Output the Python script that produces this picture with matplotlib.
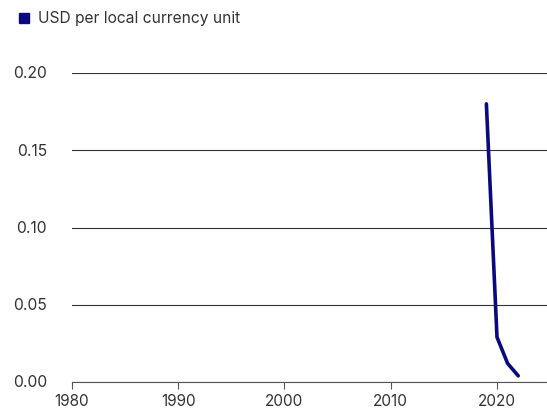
import matplotlib.pyplot as plt
import matplotlib.patches as mpatches

# Data
years = [2019, 2020, 2021, 2022]
usd_per_unit = [0.180, 0.029, 0.012, 0.004]
x_ticks = [1980, 1990, 2000, 2010, 2020]
y_ticks = [0.00, 0.05, 0.10, 0.15, 0.20]
series_label = "USD per local currency unit"

plt.rcParams["font.family"] = ["Inter", "DejaVu Sans"]

fig = plt.figure(figsize=(5.47, 4.14), dpi=100)
ax = fig.add_axes([72 / 547, 31 / 414, 1 - 72 / 547, (383 - 74) / 414])

ax.plot(years, usd_per_unit, color="#0a0a80", linewidth=2.6,
        solid_capstyle="round", solid_joinstyle="round", zorder=3)

ax.set_xlim(1980, 1980 + (547 - 72) / 10.625)
ax.set_ylim(0, 0.2)
ax.set_xticks(x_ticks)
ax.set_yticks(y_ticks)
ax.set_yticklabels([f"{v:.2f}" for v in y_ticks])

ax.grid(axis="y", color="#333333", linewidth=0.8)
ax.set_axisbelow(True)
for s in ["top", "right", "left"]:
    ax.spines[s].set_visible(False)
ax.spines["bottom"].set_color("#555555")
ax.spines["bottom"].set_linewidth(0.8)

ax.tick_params(axis="y", length=0, pad=18, labelsize=11.3, labelcolor="#333333")
ax.tick_params(axis="x", length=5, width=0.8, color="#555555", pad=3,
               labelsize=11, labelcolor="#333333")
for lbl in ax.get_yticklabels():
    lbl.set_verticalalignment("center")

# legend
fig.patches.append(mpatches.Rectangle((19 / 547, 1 - 24 / 414), 10 / 547, 10 / 414,
                                      transform=fig.transFigure, color="#0a0a80"))
fig.text(38 / 547, 1 - 19 / 414, series_label, fontsize=11.2, color="#333333",
         va="center", ha="left")

fig.savefig("out.png", dpi=100)
